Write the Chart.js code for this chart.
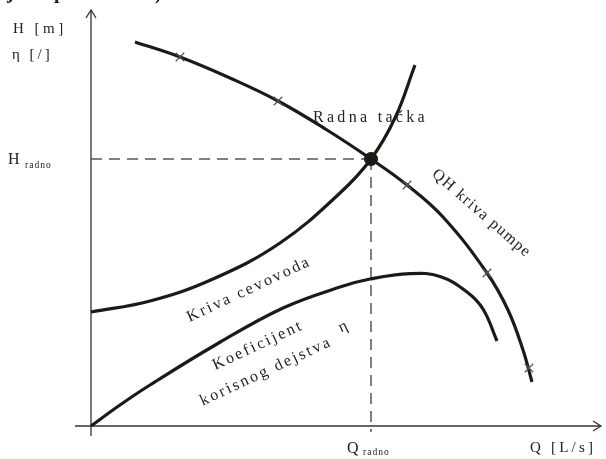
<!DOCTYPE html>
<html>
<head>
<meta charset="utf-8">
<script src="https://cdn.jsdelivr.net/npm/chart.js@4.4.1/dist/chart.umd.min.js"></script>
<style>
  html, body { margin: 0; padding: 0; background: #fff; }
  #wrap { width: 606px; height: 459px; position: relative; }
</style>
</head>
<body>
<div id="wrap"><canvas id="myChart"></canvas></div>
<script>
// QH kriva pumpe (Q, H)
const qPump = [8.8, 17.8, 27.8, 37.4, 47.2, 56, 63.2, 70.4, 79.2, 83.4, 86.4, 88.2];
const hPump = [96, 92.25, 87, 81.25, 74, 66.75, 60.25, 52.25, 38.25, 29, 19, 11];

// crtice na krivoj pumpe
const qMarks = [17.8, 37.4, 63.2, 79.2, 87.6];
const hMarks = [92.25, 81.25, 60.25, 38.25, 14.5];

// kriva cevovoda
const qPipe = [0, 11.8, 24.4, 37.8, 49.8, 56, 60.8, 64.8];
const hPipe = [28.5, 31.25, 36.75, 45.75, 58.25, 66.75, 77, 90.25];

// koeficijent korisnog dejstva
const qEta = [0, 5.8, 11.8, 25.2, 38.4, 49.8, 55.8, 63.8, 69.8, 75.2, 78.4, 81.2];
const eta = [0, 5.25, 10.25, 20.5, 29.5, 34.75, 36.75, 38.1, 37.4, 33.5, 29.25, 21.25];

// radna tacka
const qRadno = 56;
const hRadno = 66.75;

const pts = (xs, ys) => xs.map((x, i) => ({ x: x, y: ys[i] }));

const INK = '#1c1a17';
const SERIF = '"Liberation Serif", "Times New Roman", serif';

// draws text char by char so the letter spacing is the same everywhere
function spaced(ctx, text, x, y, gap, align) {
  const chars = Array.from(text);
  const widths = chars.map(c => ctx.measureText(c).width);
  const total = widths.reduce((a, b) => a + b, 0) + gap * (chars.length - 1);
  let cx = x;
  if (align === 'center') cx = x - total / 2;
  if (align === 'right') cx = x - total;
  ctx.textAlign = 'left';
  chars.forEach((c, i) => {
    ctx.fillText(c, cx, y);
    cx += widths[i] + gap;
  });
}

const axesPlugin = {
  id: 'axes',
  beforeDatasetsDraw(chart) {
    const { ctx, chartArea: a, scales: { x, y } } = chart;
    const x0 = x.getPixelForValue(0);
    const y0 = y.getPixelForValue(0);
    ctx.save();
    ctx.strokeStyle = '#333';
    ctx.lineWidth = 1.3;
    ctx.beginPath();
    ctx.moveTo(x0, y0 + 10);
    ctx.lineTo(x0, a.top - 2);
    ctx.moveTo(x0 - 16, y0);
    ctx.lineTo(a.right + 3, y0);
    ctx.stroke();
    // strelice
    ctx.beginPath();
    ctx.moveTo(x0 - 5, a.top + 6);
    ctx.lineTo(x0, a.top - 2);
    ctx.lineTo(x0 + 5, a.top + 6);
    ctx.moveTo(a.right - 5, y0 - 5);
    ctx.lineTo(a.right + 3, y0);
    ctx.lineTo(a.right - 5, y0 + 5);
    ctx.stroke();
    ctx.restore();
  }
};

const textPlugin = {
  id: 'labels',
  afterDraw(chart) {
    const { ctx, scales: { x, y } } = chart;
    ctx.save();
    ctx.fillStyle = '#222';
    ctx.textBaseline = 'alphabetic';

    // odsecen tekst iz reda iznad
    ctx.font = 'bold 20px ' + SERIF;
    ctx.fillText('j', 7, -2);
    ctx.fillText('p', 54, -2);
    ctx.fillText(')', 155, -1);

    ctx.font = '15px ' + SERIF;
    spaced(ctx, 'H [m]', 13, 33, 3.5);
    spaced(ctx, 'η [/]', 12, 59, 3);
    spaced(ctx, 'Q [L/s]', 530, 452, 3.2);
    ctx.font = '16px ' + SERIF;
    spaced(ctx, 'Radna tačka', 313, 122, 3.3);

    // H radno
    const yr = y.getPixelForValue(hRadno);
    ctx.font = '16px ' + SERIF;
    ctx.fillText('H', 8, yr + 5);
    ctx.font = '9.5px ' + SERIF;
    spaced(ctx, 'radno', 25, yr + 9, 1);

    // Q radno
    const xr = x.getPixelForValue(qRadno);
    ctx.font = '16px ' + SERIF;
    ctx.fillText('Q', xr - 24, 453);
    ctx.font = '9.5px ' + SERIF;
    spaced(ctx, 'radno', xr - 8, 455, 1);

    // rotirani natpisi
    const rot = (txt, cx, cy, deg, size, gap) => {
      ctx.save();
      ctx.translate(cx, cy);
      ctx.rotate(deg * Math.PI / 180);
      ctx.font = size + 'px ' + SERIF;
      ctx.textBaseline = 'middle';
      spaced(ctx, txt, 0, 0, gap, 'center');
      ctx.restore();
    };
    rot('QH kriva pumpe', 481, 213, 41, 16, 1.3);
    rot('Kriva cevovoda', 248, 290, -25, 16, 2.4);
    rot('Koeficijent', 257, 346, -25, 16, 2.4);
    rot('η', 343, 327, -25, 16, 0);
    rot('korisnog dejstva', 265, 372, -25, 16, 2.4);

    ctx.restore();
  }
};

const curve = {
  showLine: true,
  borderColor: INK,
  borderWidth: 3.2,
  pointRadius: 0,
  tension: 0.4,
  fill: false,
  clip: false
};

const dashed = {
  showLine: true,
  borderColor: '#555',
  borderWidth: 1.5,
  borderDash: [11, 7],
  pointRadius: 0,
  tension: 0,
  fill: false,
  clip: false
};

new Chart(document.getElementById('myChart'), {
  type: 'scatter',
  data: {
    datasets: [
      {
        label: 'Radna tačka',
        data: [{ x: qRadno, y: hRadno }],
        pointRadius: 6.5,
        pointBackgroundColor: INK,
        pointBorderColor: INK,
        clip: false
      },
      {
        label: 'crtice',
        data: pts(qMarks, hMarks),
        pointStyle: 'crossRot',
        pointRadius: 6,
        pointBorderColor: '#555',
        pointBorderWidth: 1.2,
        clip: false
      },
      Object.assign({ label: 'QH kriva pumpe', data: pts(qPump, hPump) }, curve),
      Object.assign({ label: 'Kriva cevovoda', data: pts(qPipe, hPipe) }, curve),
      Object.assign({ label: 'Koeficijent korisnog dejstva', data: pts(qEta, eta) }, curve),
      Object.assign({ label: 'H radno', data: [{ x: 0, y: hRadno }, { x: qRadno, y: hRadno }] }, dashed),
      Object.assign({ label: 'Q radno', data: [{ x: qRadno, y: hRadno }, { x: qRadno, y: -1.5 }] }, dashed)
    ]
  },
  options: {
    responsive: true,
    maintainAspectRatio: false,
    animation: false,
    events: [],
    layout: { padding: { left: 91, right: 8, top: 12, bottom: 33 } },
    scales: {
      x: { type: 'linear', min: 0, max: 101.4, display: false },
      y: { type: 'linear', min: 0, max: 103.5, display: false }
    },
    plugins: {
      legend: { display: false },
      tooltip: { enabled: false }
    }
  },
  plugins: [axesPlugin, textPlugin]
});
</script>
</body>
</html>
